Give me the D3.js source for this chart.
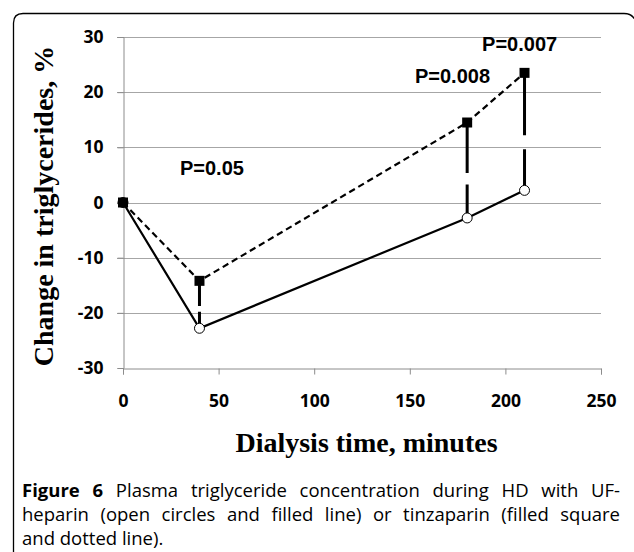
<!DOCTYPE html>
<html><head><meta charset="utf-8">
<script src="https://cdn.jsdelivr.net/npm/d3@7"></script>
<style>html,body{margin:0;padding:0;background:#fff;}svg{display:block;}</style>
</head><body>
<svg id="c" width="634" height="552"></svg>
<script>
const times = [0, 40, 180, 210];
const ufHeparin = [0, -22.8, -2.8, 2.2];
const tinzaparin = [0, -14.2, 14.5, 23.5];
const xTicks = [0, 50, 100, 150, 200, 250];
const yTicks = [-30, -20, -10, 0, 10, 20, 30];
const pLabels = ["P=0.05", "P=0.008", "P=0.007"];
const pLabelX = [29.8, 152.7, 187.8];
const pLabelY = [5.0, 21.7, 27.5];
const yTitle = "Change in triglycerides, %";
const xTitle = "Dialysis time, minutes";
const captionLines = [
  [["Figure 6", true], [" Plasma triglyceride concentration during HD with UF-", false]],
  [["heparin (open circles and filled line) or tinzaparin (filled square", false]],
  [["and dotted line).", false]]
];

const svg = d3.select("#c");
const x = d3.scaleLinear().domain([0, 250]).range([123, 601]);
const y = d3.scaleLinear().domain([-30, 30]).range([368, 37]);

// frame
svg.append("path")
  .attr("d", "M13.5,560 V23 Q13.5,13.5 23,13.5 H624 Q633,13.5 636,22")
  .attr("fill", "none").attr("stroke", "#000").attr("stroke-width", 1.3);

// gridlines
svg.append("g").selectAll("line").data(yTicks.filter(d => d !== -30)).join("line")
  .attr("x1", 117).attr("x2", 601)
  .attr("y1", d => Math.round(y(d)) + 0.5).attr("y2", d => Math.round(y(d)) + 0.5)
  .attr("stroke", "#a6a6a6").attr("stroke-width", 1);

const tickFont = "Open Sans, sans-serif";
// y axis
const yAxis = svg.append("g").attr("transform", "translate(123.5,0)")
  .call(d3.axisLeft(y).tickValues(yTicks).tickSize(6).tickPadding(14).tickFormat(d => String(d)));
yAxis.select(".domain").attr("stroke", "#8c8c8c");
yAxis.selectAll(".tick line").attr("stroke", "#8c8c8c");
yAxis.selectAll("text").attr("font-family", tickFont)
  .attr("font-weight", "bold").attr("font-size", 17.5).attr("fill", "#000");

// x axis
const xAxis = svg.append("g").attr("transform", "translate(0,368.5)")
  .call(d3.axisBottom(x).tickValues(xTicks).tickSize(6).tickPadding(20).tickFormat(d => String(d)));
xAxis.select(".domain").attr("stroke", "#8c8c8c");
xAxis.selectAll(".tick line").attr("stroke", "#8c8c8c");
xAxis.selectAll("text").attr("font-family", tickFont)
  .attr("font-weight", "bold").attr("font-size", 17.5).attr("fill", "#000");

// connectors
const conn = svg.append("g");
times.forEach((t, i) => {
  if (i === 0) return;
  const y1 = y(tinzaparin[i]), y2 = y(ufHeparin[i]);
  const L = y2 - y1;
  conn.append("line").attr("x1", x(t)).attr("x2", x(t)).attr("y1", y1).attr("y2", y2)
    .attr("stroke", "#000").attr("stroke-width", 3)
    .attr("stroke-dasharray", `${(L * 0.53).toFixed(1)},${(L * 0.12).toFixed(1)},${L}`);
});

// lines
const pts = arr => times.map((t, i) => [x(t), y(arr[i])]);
const line = d3.line();
svg.append("path").attr("d", line(pts(ufHeparin))).attr("fill", "none")
  .attr("stroke", "#000").attr("stroke-width", 2.2);
svg.append("path").attr("d", line(pts(tinzaparin))).attr("fill", "none")
  .attr("stroke", "#000").attr("stroke-width", 2.2).attr("stroke-dasharray", "6.5,4");

// markers
svg.append("g").selectAll("circle").data(times.map((t, i) => [t, ufHeparin[i]])).join("circle")
  .attr("cx", d => x(d[0])).attr("cy", d => y(d[1])).attr("r", 5)
  .attr("fill", "#fff").attr("stroke", "#000").attr("stroke-width", 1);
svg.append("g").selectAll("rect").data(times.map((t, i) => [t, tinzaparin[i]])).join("rect")
  .attr("x", d => x(d[0]) - 5).attr("y", d => y(d[1]) - 5).attr("width", 10).attr("height", 10)
  .attr("fill", "#000");

// P labels
svg.append("g").selectAll("text").data(pLabels).join("text")
  .attr("x", (d, i) => x(pLabelX[i])).attr("y", (d, i) => y(pLabelY[i]))
  .attr("font-family", "Liberation Sans, Arial, sans-serif").attr("font-weight", "bold")
  .attr("font-size", 20).text(d => d);

// axis titles
svg.append("text").attr("transform", "translate(53,206) rotate(-90)")
  .attr("text-anchor", "middle").attr("font-family", "Liberation Serif, Times New Roman, serif")
  .attr("font-weight", "bold").attr("font-size", 28).text(yTitle);
svg.append("text").attr("x", 366.5).attr("y", 452)
  .attr("text-anchor", "middle").attr("font-family", "Liberation Serif, Times New Roman, serif")
  .attr("font-weight", "bold").attr("font-size", 28).text(xTitle);

// caption
const capX = 22, capRight = 620, capY = [497, 521, 545];
captionLines.forEach((parts, li) => {
  const t = svg.append("text").attr("x", capX).attr("y", capY[li])
    .attr("font-family", "Open Sans, sans-serif").attr("font-size", 18.5).attr("fill", "#000")
    .attr("xml:space", "preserve");
  parts.forEach(p => t.append("tspan").attr("font-weight", p[1] ? "bold" : "normal").text(p[0]));
  if (li < 2) {
    const w = t.node().getComputedTextLength();
    const nSpaces = parts.map(p => p[0]).join("").split(" ").length - 1;
    t.attr("word-spacing", (capRight - capX - w) / nSpaces);
  }
});
</script>
</body></html>
